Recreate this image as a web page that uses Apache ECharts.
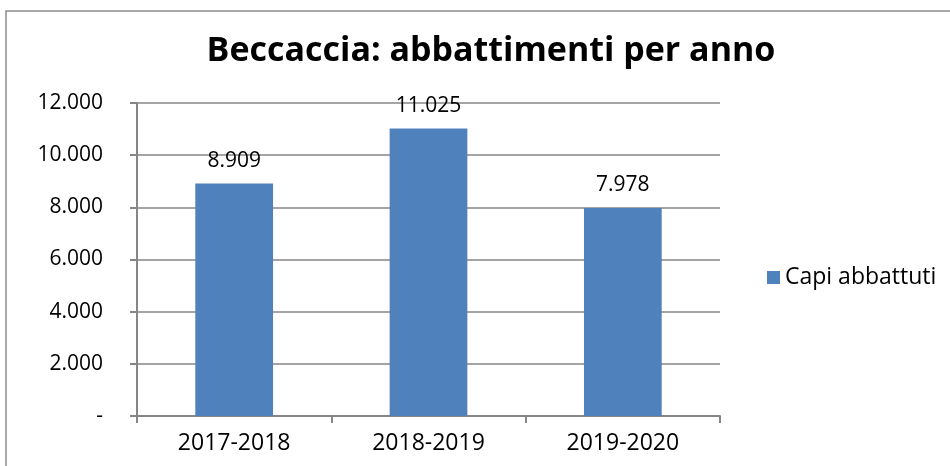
<!DOCTYPE html>
<html><head><meta charset="utf-8">
<script src="https://cdn.jsdelivr.net/npm/echarts@6/dist/echarts.min.js"></script>
<style>html,body{margin:0;padding:0;background:#fff;}#c{width:950px;height:466px;}</style>
</head><body><div id="c"></div>
<script>
const categories = ['2017-2018', '2018-2019', '2019-2020'];
const capiAbbattuti = [8909, 11025, 7978];
const seriesName = 'Capi abbattuti';
const titleText = 'Beccaccia: abbattimenti per anno';

function fmt(v) {
  if (v === 0) return '-';
  return String(v).replace(/\B(?=(\d{3})+(?!\d))/g, '.');
}
const FONT = 'Open Sans';
const chart = echarts.init(document.getElementById('c'));
chart.setOption({
  animation: false,
  graphic: [{type: 'rect', shape: {x: 6, y: 11, width: 960, height: 470}, style: {fill: 'none', stroke: '#8c8c8c', lineWidth: 1.5}, silent: true}],
  title: {text: titleText, left: 486, textAlign: 'center', top: 29,
    textStyle: {fontFamily: FONT, fontWeight: 'bold', fontSize: 34, color: '#000'}},
  legend: {orient: 'vertical', left: 762, top: 261, itemWidth: 13, itemHeight: 13, itemGap: 6,
    icon: 'rect', textStyle: {fontFamily: FONT, fontSize: 23, color: '#000'}, data: [seriesName]},
  grid: {left: 137, right: 230, top: 103, bottom: 50},
  xAxis: {type: 'category', data: categories,
    axisLine: {lineStyle: {color: '#868686', width: 2}},
    axisTick: {show: true, length: 7, lineStyle: {color: '#868686', width: 2}},
    axisLabel: {fontFamily: FONT, fontSize: 23, color: '#000', margin: 16}},
  yAxis: {type: 'value', min: 0, max: 12000, interval: 2000,
    axisLine: {show: true, lineStyle: {color: '#868686', width: 2}},
    axisTick: {show: true, length: 7, lineStyle: {color: '#868686', width: 2}},
    splitLine: {lineStyle: {color: '#868686', width: 1.5}},
    axisLabel: {fontFamily: FONT, fontSize: 21, color: '#000', margin: 34, formatter: fmt}},
  series: [{name: seriesName, type: 'bar', data: capiAbbattuti, barWidth: '40%',
    itemStyle: {color: '#4F81BD'},
    label: {show: true, position: 'top', distance: 12, formatter: p => fmt(p.value),
      fontFamily: FONT, fontSize: 21, color: '#000'}}]
});
</script></body></html>
